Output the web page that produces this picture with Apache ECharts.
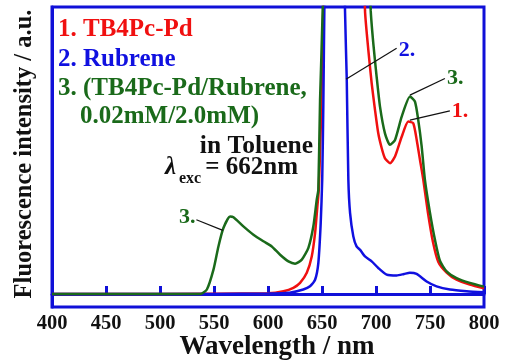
<!DOCTYPE html>
<html>
<head>
<meta charset="utf-8">
<script src="https://cdn.jsdelivr.net/npm/echarts@6/dist/echarts.min.js"></script>
<style>
  html, body { margin: 0; padding: 0; background: #fff; }
  #chart { width: 505px; height: 363px; }
</style>
</head>
<body>
<div id="chart"></div>
<script>
// Emission spectra in toluene, excitation at 662 nm (intensities in arbitrary units)
const xTicks = [400, 450, 500, 550, 600, 650, 700, 750, 800];

// 1. TB4Pc-Pd
const redNm  = [400, 500, 600, 614.3, 623.5, 629.7, 635.9, 640.5, 643.6, 645.7, 647.0, 649.0, 651.2, 655, 662, 672, 682, 689.8, 692.9, 696.0, 699.1, 702.1, 705.3, 708.3, 713.0, 717.6, 723.8, 729.9, 734.5, 737.7, 740.7, 743.8, 748.1, 752.7, 757.6, 765.4, 774.6, 786.9, 800];
const redInt = [0, 0, 0.3, 1.0, 2.2, 3.9, 7.4, 13.1, 21.3, 30.5, 36.3, 60, 100, 200, 330, 330, 220, 98.9, 85.0, 73.4, 64.1, 56.0, 50.8, 47.3, 45.6, 47.9, 54.8, 60.1, 59.5, 53.7, 46.8, 39.8, 28.3, 18.2, 11.3, 7.5, 5.0, 3.3, 2.0];

// 2. Rubrene
const blueNm  = [400, 500, 600, 620, 632.7, 638.9, 643.6, 646.6, 648.8, 650.2, 651.2, 652.2, 656, 662, 668, 671.3, 672.9, 674.4, 676.0, 679.0, 682.0, 685.5, 689.8, 696.0, 702.1, 709.9, 719.1, 726, 731.4, 737.6, 746.9, 756.1, 768.5, 783.9, 800];
const blueInt = [0, 0, 0.2, 0.5, 1.6, 2.7, 5.0, 10.8, 24.7, 40, 65, 100, 220, 280, 220, 98.9, 75.2, 39.8, 28.2, 20.1, 16.6, 15.3, 13.1, 11.4, 9.1, 6.8, 6.5, 7.0, 7.4, 7.0, 4.4, 2.7, 1.6, 1.0, 0.6];

// 3. TB4Pc-Pd / Rubrene mixture (0.02 mM / 2.0 mM)
const greenNm  = [400, 500, 537.2, 543.4, 549.5, 554.1, 558.7, 564.9, 568.0, 577.2, 586.5, 595.7, 603.5, 611.2, 618.9, 625.1, 631.3, 637.4, 642.0, 645.1, 646.6, 648.2, 650.7, 655, 662, 675, 688, 695.1, 697.5, 700.6, 703.7, 708.3, 712.9, 717.6, 723.8, 731.5, 736.1, 739.1, 742.3, 745.3, 750.0, 754.6, 759.2, 765.4, 774.6, 786.9, 800];
const greenInt = [0, 0, 0, 1.6, 8.5, 16.6, 23.0, 27.0, 26.8, 23.6, 20.7, 18.4, 16.6, 13.7, 11.4, 10.6, 12.0, 16.1, 23.6, 32.8, 36.3, 67.6, 100, 210, 340, 300, 170, 98.9, 87.3, 75.7, 65.3, 56.0, 52.0, 53.7, 61.8, 68.8, 67.0, 60.7, 51.4, 39.8, 28.3, 18.9, 11.6, 7.9, 5.6, 3.9, 2.6];

const FONT = '"Liberation Serif", "Times New Roman", serif';
const RED = '#f01010', BLUE = '#1010e0', GREEN = '#1a6a1a', FRAME = '#1010d8';

// Curve call-outs: [label, colour, label anchor (nm, a.u.), curve point (nm, a.u.), side, label dy]
const callouts = [
  ['3.', GREEN, [533.7, 25.9], [558.2, 22.2], 'left', -2],
  ['2.', BLUE, [719.1, 85.6], [672.2, 74.8], 'right', 2],
  ['3.', GREEN, [763.8, 75.1], [731.4, 69.3], 'right', 0],
  ['1.', RED, [768.4, 63.8], [731.4, 60.6], 'right', 0]
];

const zip = (a, b) => a.map((v, i) => [v, b[i]]);

function spectrum(name, nm, val, color, z) {
  return {
    name, type: 'line', data: zip(nm, val), showSymbol: false, smooth: 0.2,
    clip: true, z, lineStyle: { color, width: 2.5 }, silent: true
  };
}

const chart = echarts.init(document.getElementById('chart'), null, { renderer: 'canvas' });

chart.setOption({
  animation: false,
  backgroundColor: '#fff',
  grid: { left: 52, right: 21, top: 7, bottom: 56, containLabel: false, outerBoundsMode: 'none',
    show: true, borderColor: FRAME, borderWidth: 3, backgroundColor: 'transparent' },
  xAxis: {
    type: 'value', min: 400, max: 800, interval: 50,
    name: 'Wavelength / nm', nameLocation: 'middle', nameGap: 27, nameMoveOverlap: false,
    nameTextStyle: { fontFamily: FONT, fontWeight: 'bold', fontSize: 27, color: '#111', padding: [0, 0, 0, 18] },
    axisLine: { show: true, lineStyle: { color: FRAME, width: 3 } },
    axisTick: { show: true, inside: true, length: 8, lineStyle: { color: FRAME, width: 3 } },
    axisLabel: { fontFamily: FONT, fontWeight: 'bold', fontSize: 20.5, color: '#111', margin: 6,
      showMinLabel: true, showMaxLabel: true },
    splitLine: { show: false }
  },
  yAxis: {
    type: 'value', min: -4.5, max: 100,
    name: 'Fluorescence intensity / a.u.', nameLocation: 'middle', nameGap: 15, nameMoveOverlap: false,
    nameTextStyle: { fontFamily: FONT, fontWeight: 'bold', fontSize: 24.5, color: '#111', padding: [0, 0, 0, 6] },
    axisLine: { show: true, lineStyle: { color: FRAME, width: 3 } },
    axisTick: { show: false }, axisLabel: { show: false }, splitLine: { show: false }
  },
  series: [
    spectrum('1. TB4Pc-Pd', redNm, redInt, RED, 2),
    spectrum('2. Rubrene', blueNm, blueInt, BLUE, 3),
    spectrum('3. TB4Pc-Pd/Rubrene', greenNm, greenInt, GREEN, 4)
  ]
});

// Text block and call-outs, placed after the axes exist
const toPx = p => chart.convertToPixel({ gridIndex: 0 }, p);
const txt = (text, x, y, color, size, extra) => ({
  type: 'text', x, y, z: 20,
  style: Object.assign({ text, fill: color, font: `bold ${size}px ${FONT}`, textVerticalAlign: 'middle' }, extra || {})
});

const graphics = [
  txt('1. TB4Pc-Pd', 58, 30, RED, 25),
  txt('2. Rubrene', 58, 60, BLUE, 25),
  txt('3. (TB4Pc-Pd/Rubrene,', 58, 89, GREEN, 25),
  txt('0.02mM/2.0mM)', 80, 117, GREEN, 25),
  txt('in Toluene', 313, 146, '#111', 25.5, { textAlign: 'right' }),
  { type: 'text', x: 165, y: 168, z: 20, style: { text: 'λ', fill: '#111', font: `italic bold 25px ${FONT}`, textVerticalAlign: 'middle' } },
  txt('exc', 179, 179, '#111', 16),
  txt('= 662nm', 298, 168, '#111', 25, { textAlign: 'right' })
];

callouts.forEach(([label, color, from, to, side, dy]) => {
  const a = toPx(from), b = toPx(to);
  graphics.push({ type: 'line', z: 15, shape: { x1: a[0], y1: a[1], x2: b[0], y2: b[1] }, style: { stroke: '#111', lineWidth: 1.2 } });
  graphics.push(txt(label, side === 'left' ? a[0] - 1 : a[0] + 2, a[1] + dy, color, 22,
    { textAlign: side === 'left' ? 'right' : 'left' }));
});

chart.setOption({ graphic: graphics });
</script>
</body>
</html>
